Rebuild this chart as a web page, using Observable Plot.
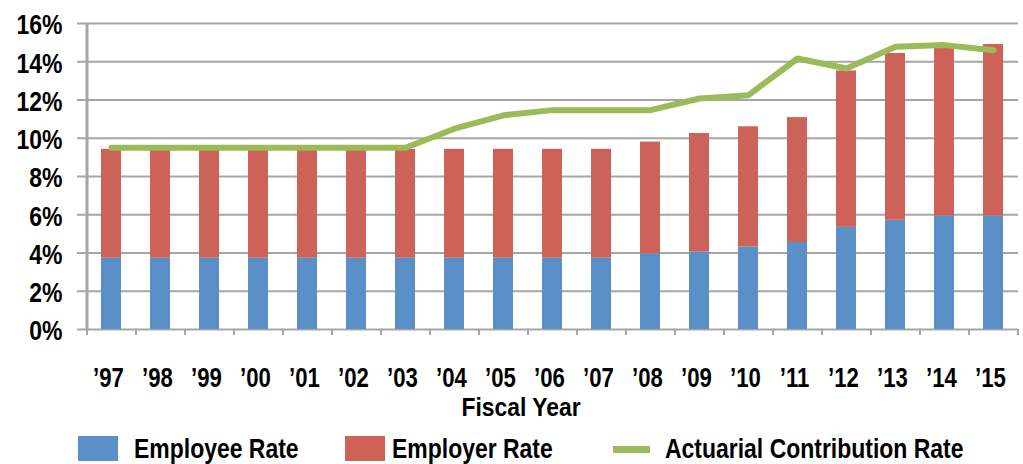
<!DOCTYPE html>
<html>
<head>
<meta charset="utf-8">
<script src="https://cdn.jsdelivr.net/npm/d3@7"></script>
<script src="https://cdn.jsdelivr.net/npm/@observablehq/plot@0.6"></script>
<style>
  html, body { margin: 0; padding: 0; background: #fff; }
  #wrap { position: relative; width: 1023px; height: 464px; overflow: hidden;
    font-family: "Liberation Sans", Arial, sans-serif; font-weight: bold; color: #000; }
  #chart { position: absolute; left: 0; top: 0; }
  .lbl { position: absolute; font-size: 28px; line-height: 22px; height: 22px; white-space: nowrap; transform-origin: left center; transform: scaleX(0.82); }
  #xtitle { font-size: 26px; line-height: 20px; height: 20px; transform-origin: center center; transform: translateX(-50%) scaleX(0.88); }
  .sw { position: absolute; }
</style>
</head>
<body>
<div id="wrap">
  <div id="chart"></div>
  <div class="lbl" id="xtitle" style="left:521px; top:397px;">Fiscal Year</div>
  <div id="legend"></div>
</div>
<script>
const years = ["97","98","99","00","01","02","03","04","05","06","07","08","09","10","11","12","13","14","15"];
const yearLabels = years.map(y => "\u2019" + y);
const employeeRate = [3.73,3.73,3.73,3.73,3.73,3.73,3.73,3.73,3.73,3.73,3.73,3.96,4.05,4.31,4.55,5.34,5.71,5.93,5.93];
const employerRate = [5.69,5.69,5.69,5.69,5.69,5.69,5.69,5.69,5.69,5.69,5.69,5.84,6.2,6.29,6.53,8.18,8.72,8.85,8.97];
const actuarialRate = [9.5,9.5,9.5,9.5,9.5,9.5,9.5,10.5,11.2,11.47,11.47,11.47,12.08,12.25,14.17,13.65,14.78,14.87,14.6];
const yTicks = [0,2,4,6,8,10,12,14,16];
const seriesNames = ["Employee Rate", "Employer Rate", "Actuarial Contribution Rate"];
const colors = ["#5b8fc7", "#cc6258", "#9bbb59"];

const W = 1023, H = 395, ML = 87, MR = 5, MT = 23, MB = 66;
const step = (W - ML - MR) / years.length;
const frameH = H - MT - MB;
const gridColor = "#a6a6a6";
const squeeze = 0.82;

const bars = [];
years.forEach((y, i) => bars.push({year: y, series: seriesNames[0], value: employeeRate[i]}));
years.forEach((y, i) => bars.push({year: y, series: seriesNames[1], value: employerRate[i]}));
const line = years.map((y, i) => ({year: y, value: actuarialRate[i]}));

const chart = Plot.plot({
  width: W, height: H,
  marginLeft: ML, marginRight: MR, marginTop: MT, marginBottom: MB,
  style: {fontFamily: "'Liberation Sans', Arial, sans-serif", fontWeight: "bold", fontSize: "28px", color: "#000", background: "#fff"},
  x: {domain: years, paddingInner: 0.59, paddingOuter: 0.295, label: null},
  y: {domain: [0, 16], label: null},
  color: {domain: seriesNames, range: colors},
  marks: [
    Plot.ruleY(yTicks, {y: d => d, stroke: gridColor, strokeWidth: 2, insetLeft: -10}),
    Plot.barY(bars, {x: "year", y: "value", fill: "series", order: seriesNames}),
    Plot.ruleX([years[0]], {x: d => d, dx: -step / 2, stroke: gridColor, strokeWidth: 3}),
    Plot.ruleX(years, {x: d => d, dx: -step / 2, stroke: gridColor, strokeWidth: 2, insetTop: frameH, insetBottom: -6}),
    Plot.ruleX([years[years.length - 1]], {x: d => d, dx: step / 2, stroke: gridColor, strokeWidth: 2, insetTop: frameH, insetBottom: -6}),
    Plot.line(line, {x: "year", y: "value", stroke: colors[2], strokeWidth: 6, strokeLinejoin: "round"}),
    Plot.axisY({ticks: yTicks, tickFormat: d => d + "%", tickSize: 0, tickPadding: 25, fill: "#000", dy: 2}),
    Plot.axisX({tickFormat: d => yearLabels[years.indexOf(d)], tickSize: 0, tickPadding: 38, fill: "#000", dx: -3, fontSize: 27})
  ]
});
document.getElementById("chart").appendChild(chart);
// condense the bold labels horizontally to match the narrow face of the original
chart.querySelectorAll("text").forEach(t => {
  const len = t.getComputedTextLength();
  if (len > 0) {
    t.setAttribute("textLength", (len * squeeze).toFixed(2));
    t.setAttribute("lengthAdjust", "spacingAndGlyphs");
  }
});

// legend
const legend = document.getElementById("legend");
const items = [
  {sw: {left: 78, top: 436, width: 40, height: 25}, text: {left: 134}},
  {sw: {left: 345, top: 436, width: 40, height: 25}, text: {left: 392}},
  {sw: {left: 613, top: 446, width: 37, height: 7}, text: {left: 665}}
];
items.forEach((it, i) => {
  const s = document.createElement("div");
  s.className = "sw";
  Object.assign(s.style, {left: it.sw.left + "px", top: it.sw.top + "px", width: it.sw.width + "px", height: it.sw.height + "px", background: colors[i]});
  legend.appendChild(s);
  const t = document.createElement("div");
  t.className = "lbl";
  t.textContent = seriesNames[i];
  Object.assign(t.style, {left: it.text.left + "px", top: "438px"});
  legend.appendChild(t);
});
</script>
</body>
</html>
